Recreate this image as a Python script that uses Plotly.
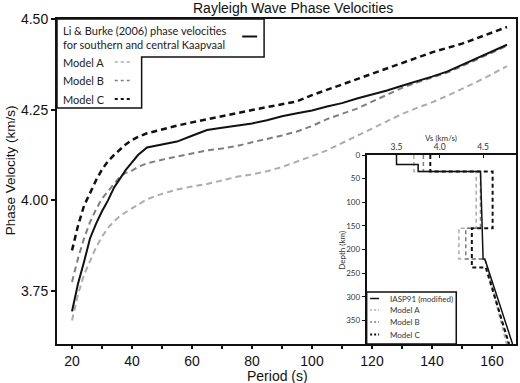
import plotly.graph_objects as go

# ---------------- data ----------------
period = [20, 22, 24, 26, 28, 30, 32, 34, 36, 38, 40, 42, 45, 50, 55, 60, 65, 70, 75, 80,
          85, 90, 95, 100, 105, 110, 115, 120, 125, 130, 135, 140, 145, 150, 155, 160, 165]

li_burke = [3.694, 3.77, 3.83, 3.895, 3.935, 3.97, 4.00, 4.035, 4.06, 4.085, 4.105, 4.125, 4.146,
            4.153, 4.162, 4.178, 4.194, 4.200, 4.205, 4.212, 4.221, 4.232, 4.240, 4.248, 4.259,
            4.268, 4.281, 4.291, 4.303, 4.316, 4.328, 4.341, 4.355, 4.373, 4.392, 4.41, 4.429]

model_a = [3.669, 3.74, 3.795, 3.835, 3.87, 3.90, 3.924, 3.942, 3.957, 3.968, 3.978, 3.989, 4.003,
           4.018, 4.03, 4.038, 4.045, 4.055, 4.065, 4.072, 4.08, 4.092, 4.106, 4.122, 4.138,
           4.157, 4.178, 4.198, 4.218, 4.238, 4.255, 4.27, 4.288, 4.307, 4.327, 4.348, 4.37]

model_b = [3.775, 3.84, 3.895, 3.94, 3.975, 4.005, 4.025, 4.045, 4.065, 4.076, 4.082, 4.092, 4.102,
           4.112, 4.121, 4.13, 4.138, 4.143, 4.15, 4.16, 4.169, 4.179, 4.19, 4.205, 4.224,
           4.238, 4.253, 4.272, 4.292, 4.31, 4.325, 4.338, 4.352, 4.37, 4.389, 4.407, 4.426]

model_c = [3.862, 3.93, 3.985, 4.02, 4.055, 4.085, 4.108, 4.125, 4.141, 4.155, 4.166, 4.175, 4.185,
           4.196, 4.206, 4.215, 4.224, 4.232, 4.24, 4.249, 4.257, 4.264, 4.273, 4.29, 4.305,
           4.318, 4.333, 4.348, 4.364, 4.38, 4.394, 4.408, 4.42, 4.432, 4.447, 4.462, 4.478]

# inset: shear velocity profiles
iasp_depth = [0, 20, 20, 35, 35, 220, 220, 400]
iasp_vs = [3.5, 3.5, 3.75, 3.75, 4.47, 4.50, 4.52, 4.84]

a_depth = [0, 35, 35, 155, 155, 220, 220, 400]
a_vs = [3.70, 3.70, 4.42, 4.42, 4.22, 4.22, 4.52, 4.77]
b_depth = [0, 35, 35, 155, 155, 220, 220, 400]
b_vs = [3.81, 3.81, 4.47, 4.47, 4.30, 4.30, 4.52, 4.79]
c_depth = [0, 35, 35, 155, 155, 238, 238, 400]
c_vs = [3.89, 3.89, 4.61, 4.61, 4.37, 4.37, 4.53, 4.80]

y_ticks = [3.75, 4.00, 4.25, 4.50]
y_ticklabels = ["3.75", "4.00", "4.25", "4.50"]
x_ticks = [20, 40, 60, 80, 100, 120, 140, 160]
vs_ticks = [3.5, 4.0, 4.5]
vs_ticklabels = ["3.5", "4.0", "4.5"]
depth_ticks = [0, 50, 100, 150, 200, 250, 300, 350]

# ---------------- layout helpers ----------------
W, H = 520, 383
L, R, T, B = 57, 2, 19, 39
PW, PH = W - L - R, H - T - B


def px(x):
    return (x - L) / PW


def py(y):
    return (H - B - y) / PH


MAIN_FONT = "Liberation Sans, Arial, sans-serif"
SMALL_FONT = "Lato, Open Sans, sans-serif"

fig = go.Figure()

# main curves
fig.add_trace(go.Scatter(x=period, y=model_a, mode="lines",
                         line=dict(color="#adadad", width=2, dash="6px,4px"), showlegend=False))
fig.add_trace(go.Scatter(x=period, y=model_b, mode="lines",
                         line=dict(color="#7f7f7f", width=2, dash="6px,4px"), showlegend=False))
fig.add_trace(go.Scatter(x=period, y=model_c, mode="lines",
                         line=dict(color="#111111", width=2.5, dash="6px,4px"), showlegend=False))
fig.add_trace(go.Scatter(x=period, y=li_burke, mode="lines",
                         line=dict(color="#111111", width=2), showlegend=False))

# inset profiles
fig.add_trace(go.Scatter(x=a_vs, y=a_depth, xaxis="x2", yaxis="y2", mode="lines",
                         line=dict(color="#adadad", width=1.5, dash="4px,3px"), showlegend=False))
fig.add_trace(go.Scatter(x=b_vs, y=b_depth, xaxis="x2", yaxis="y2", mode="lines",
                         line=dict(color="#7f7f7f", width=1.5, dash="4px,3px"), showlegend=False))
fig.add_trace(go.Scatter(x=c_vs, y=c_depth, xaxis="x2", yaxis="y2", mode="lines",
                         line=dict(color="#111111", width=2, dash="4px,3px"), showlegend=False))
fig.add_trace(go.Scatter(x=iasp_vs, y=iasp_depth, xaxis="x2", yaxis="y2", mode="lines",
                         line=dict(color="#111111", width=1.5), showlegend=False))

shapes = []
annotations = []

# main legend box (stepped outline)
bx = [57, 265, 265, 142, 142, 57]
by = [19, 19, 57, 57, 108, 108]
path = "M " + " L ".join(f"{px(a):.5f},{py(b):.5f}" for a, b in zip(bx, by)) + " Z"
shapes.append(dict(type="path", xref="paper", yref="paper", path=path,
                   line=dict(color="#111111", width=1.5), fillcolor="white", layer="above"))

leg_samples = [
    (243, 258, 36.5, "#111111", 2, "solid"),
    (115, 131, 62, "#adadad", 1.5, "3px,3px"),
    (115, 131, 80.5, "#7f7f7f", 1.5, "3px,3px"),
    (115, 131, 99, "#111111", 2.2, "3px,3px"),
]
for x0, x1, yy, col, w, d in leg_samples:
    shapes.append(dict(type="line", xref="paper", yref="paper", x0=px(x0), x1=px(x1),
                       y0=py(yy), y1=py(yy), line=dict(color=col, width=w, dash=d), layer="above"))

leg_texts = [("Li & Burke (2006) phase velocities", 30), ("for southern and central Kaapvaal", 44.5),
             ("Model A", 62), ("Model B", 80.5), ("Model C", 99)]
for t, yy in leg_texts:
    annotations.append(dict(text=t, xref="paper", yref="paper", x=px(61), y=py(yy),
                            xanchor="left", yanchor="middle", showarrow=False,
                            font=dict(family=SMALL_FONT, size=11, color="#222222")))

# inset legend box
ix = [368, 458, 458, 368]
iy = [292, 292, 344, 344]
path2 = "M " + " L ".join(f"{px(a):.5f},{py(b):.5f}" for a, b in zip(ix, iy)) + " Z"
shapes.append(dict(type="path", xref="paper", yref="paper", path=path2,
                   line=dict(color="#111111", width=1.5), fillcolor="white", layer="above"))
inset_leg = [
    ("IASP91 (modified)", 298.5, "#111111", 1.5, "solid"),
    ("Model A", 310, "#adadad", 1.5, "2px,2px"),
    ("Model B", 322, "#7f7f7f", 1.5, "2px,2px"),
    ("Model C", 334.5, "#111111", 2, "2px,2px"),
]
for t, yy, col, w, d in inset_leg:
    shapes.append(dict(type="line", xref="paper", yref="paper", x0=px(371.5), x1=px(380.5),
                       y0=py(yy), y1=py(yy), line=dict(color=col, width=w, dash=d), layer="above"))
    annotations.append(dict(text=t, xref="paper", yref="paper", x=px(389), y=py(yy),
                            xanchor="left", yanchor="middle", showarrow=False,
                            font=dict(family=SMALL_FONT, size=8, color="#333333")))

# titles
annotations.append(dict(text="Rayleigh Wave Phase Velocities", xref="paper", yref="paper",
                        x=px(294), y=py(8.5), xanchor="center", yanchor="middle", showarrow=False,
                        font=dict(family=MAIN_FONT, size=14, color="#111111")))
annotations.append(dict(text="Phase Velocity (km/s)", xref="paper", yref="paper",
                        x=px(10), y=py(170), xanchor="center", yanchor="middle", showarrow=False,
                        textangle=-90, font=dict(family=MAIN_FONT, size=13.5, color="#111111")))
annotations.append(dict(text="Period (s)", xref="paper", yref="paper",
                        x=px(278), y=py(376), xanchor="center", yanchor="middle", showarrow=False,
                        font=dict(family=MAIN_FONT, size=14, color="#111111")))
annotations.append(dict(text="Vs (km/s)", xref="paper", yref="paper",
                        x=px(443), y=py(138), xanchor="center", yanchor="middle", showarrow=False,
                        font=dict(family=SMALL_FONT, size=8, color="#333333")))
annotations.append(dict(text="Depth (km)", xref="paper", yref="paper",
                        x=px(343), y=py(250), xanchor="center", yanchor="middle", showarrow=False,
                        textangle=-90, font=dict(family=SMALL_FONT, size=8, color="#333333")))

inset_x0 = px(368)
inset_ytop = py(155)

fig.update_layout(
    width=W, height=H,
    margin=dict(l=L, r=R, t=T, b=B),
    paper_bgcolor="white", plot_bgcolor="white",
    showlegend=False,
    shapes=shapes,
    annotations=annotations,
    xaxis=dict(domain=[0, 1], range=[15, 168], tickvals=x_ticks, ticks="outside", ticklen=3,
               tickwidth=1.5, tickcolor="#111111", showgrid=False, zeroline=False,
               showline=True, linecolor="#111111", linewidth=2, mirror=True,
               minor=dict(dtick=10, tick0=0, ticks="outside", ticklen=3, tickcolor="#111111"),
               tickfont=dict(family=MAIN_FONT, size=14, color="#111111")),
    yaxis=dict(domain=[0, 1], range=[3.604, 4.5], tickvals=y_ticks, ticktext=y_ticklabels,
               ticks="outside", ticklen=4, tickwidth=1.5, tickcolor="#111111",
               showgrid=False, zeroline=False, showline=True, linecolor="#111111",
               linewidth=2, mirror=True,
               tickfont=dict(family=MAIN_FONT, size=14, color="#111111")),
    xaxis2=dict(domain=[inset_x0, 1], anchor="y2", side="top", range=[3.155, 4.88],
                tickvals=vs_ticks, ticktext=vs_ticklabels, ticks="inside", ticklen=3,
                tickcolor="#111111", showgrid=False, zeroline=False, showline=True,
                linecolor="#111111", linewidth=2, mirror=True,
                tickfont=dict(family=SMALL_FONT, size=8.5, color="#333333")),
    yaxis2=dict(domain=[0, inset_ytop], anchor="x2", range=[400, 0], tickvals=depth_ticks,
                ticks="outside", ticklen=3, tickcolor="#111111", showgrid=False, zeroline=False,
                showline=True, linecolor="#111111", linewidth=2, mirror=True,
                tickfont=dict(family=SMALL_FONT, size=8, color="#333333")),
)

fig.write_html("out.html")
